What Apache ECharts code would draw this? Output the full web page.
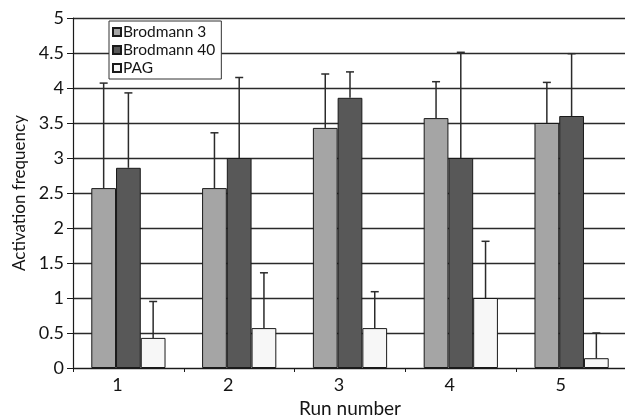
<!DOCTYPE html>
<html>
<head>
<meta charset="utf-8">
<style>
  html, body { margin: 0; padding: 0; background: #fff; }
  #chart { width: 625px; height: 416px; }
</style>
<script src="https://cdn.jsdelivr.net/npm/echarts@6/dist/echarts.min.js"></script>
</head>
<body>
<div id="chart"></div>
<script>
// categories
const runs = ['1', '2', '3', '4', '5']
const legendNames = ['Brodmann 3', 'Brodmann 40', 'PAG']
const yTicks = [0, 0.5, 1, 1.5, 2, 2.5, 3, 3.5, 4, 4.5, 5]

// mean activation frequency
const b3Mean = [2.57, 2.57, 3.43, 3.57, 3.5]
const b40Mean = [2.86, 3.0, 3.86, 3.0, 3.6]
const pagMean = [0.43, 0.57, 0.57, 1.0, 0.14]

// error (upper only)
const b3Err = [1.5, 0.79, 0.77, 0.52, 0.58]
const b40Err = [1.07, 1.15, 0.37, 1.51, 0.89]
const pagErr = [0.52, 0.79, 0.52, 0.81, 0.36]

const FONT = 'Lato'
const TEXT = '#141414'
const GAP = 0.33 // barCategoryGap fraction

const colorList = ['#a5a5a5', '#585858', '#f7f7f7']

function errorSeries(name, means, errs, pos) {
  return {
    name: name + ' err',
    type: 'custom',
    z: 5,
    silent: true,
    data: means.map((m, i) => [i, m, m + errs[i]]),
    renderItem(params, api) {
      const idx = api.value(0)
      const catW = api.size([1, 0])[0]
      const bw = catW * (1 - GAP) / 3
      const base = api.coord([idx, api.value(1)])
      const top = api.coord([idx, api.value(2)])
      const x = base[0] + (pos - 1) * bw
      const style = { stroke: '#2b2b2b', lineWidth: 1.5 }
      return {
        type: 'group',
        children: [
          { type: 'line', shape: { x1: x, y1: base[1], x2: x, y2: top[1] }, style },
          { type: 'line', shape: { x1: x - 4, y1: top[1], x2: x + 4, y2: top[1] }, style }
        ]
      }
    }
  }
}

function barSeries(name, data, color) {
  return {
    name: name,
    type: 'bar',
    data: data,
    barGap: '0%',
    barCategoryGap: (GAP * 100) + '%',
    itemStyle: {
      color: color,
      borderColor: '#1a1a1a',
      borderWidth: 1
    }
  }
}

const chart = echarts.init(document.getElementById('chart'))
chart.setOption({
  animation: false,
  textStyle: { fontFamily: FONT, color: TEXT },
  grid: {
    left: 73,
    top: 18,
    width: 554,
    bottom: 48,
    containLabel: false,
    outerBoundsMode: 'none'
  },
  legend: {
    data: legendNames,
    orient: 'vertical',
    left: 109,
    top: 21,
    backgroundColor: '#fff',
    borderColor: '#333',
    borderWidth: 1,
    padding: [3, 6, 3, 3],
    itemGap: 2,
    itemWidth: 8,
    itemHeight: 8,
    icon: 'rect',
    textStyle: { fontFamily: FONT, fontSize: 15.5, color: TEXT, padding: [0, 0, 0, -3] }
  },
  xAxis: {
    type: 'category',
    data: runs,
    name: 'Run number',
    nameLocation: 'middle',
    nameGap: 27,
    nameTextStyle: { fontFamily: FONT, fontSize: 19, color: TEXT },
    axisLine: { lineStyle: { color: '#1a1a1a', width: 1.2 } },
    axisTick: { show: true, length: 4, interval: 0, lineStyle: { color: '#1a1a1a' } },
    axisLabel: {
      fontFamily: FONT, fontSize: 18, color: TEXT, margin: 8,
      padding: [0, 22, 0, 0]
    }
  },
  yAxis: {
    type: 'value',
    min: yTicks[0],
    max: yTicks[yTicks.length - 1],
    interval: yTicks[1] - yTicks[0],
    name: 'Activation frequency',
    nameLocation: 'middle',
    nameRotate: 90,
    nameGap: 45,
    nameTextStyle: { fontFamily: FONT, fontSize: 17, color: TEXT },
    axisLine: { show: true, lineStyle: { color: '#1a1a1a', width: 1.2 } },
    axisTick: { show: true, length: 6, lineStyle: { color: '#1a1a1a' } },
    axisLabel: { fontFamily: FONT, fontSize: 18, color: TEXT, margin: 9 },
    splitLine: { show: true, lineStyle: { color: '#2a2a2a', width: 1.3 } }
  },
  series: [
    barSeries(legendNames[0], b3Mean, colorList[0]),
    barSeries(legendNames[1], b40Mean, colorList[1]),
    barSeries(legendNames[2], pagMean, colorList[2]),
    errorSeries(legendNames[0], b3Mean, b3Err, 0),
    errorSeries(legendNames[1], b40Mean, b40Err, 1),
    errorSeries(legendNames[2], pagMean, pagErr, 2)
  ]
})
</script>
</body>
</html>
